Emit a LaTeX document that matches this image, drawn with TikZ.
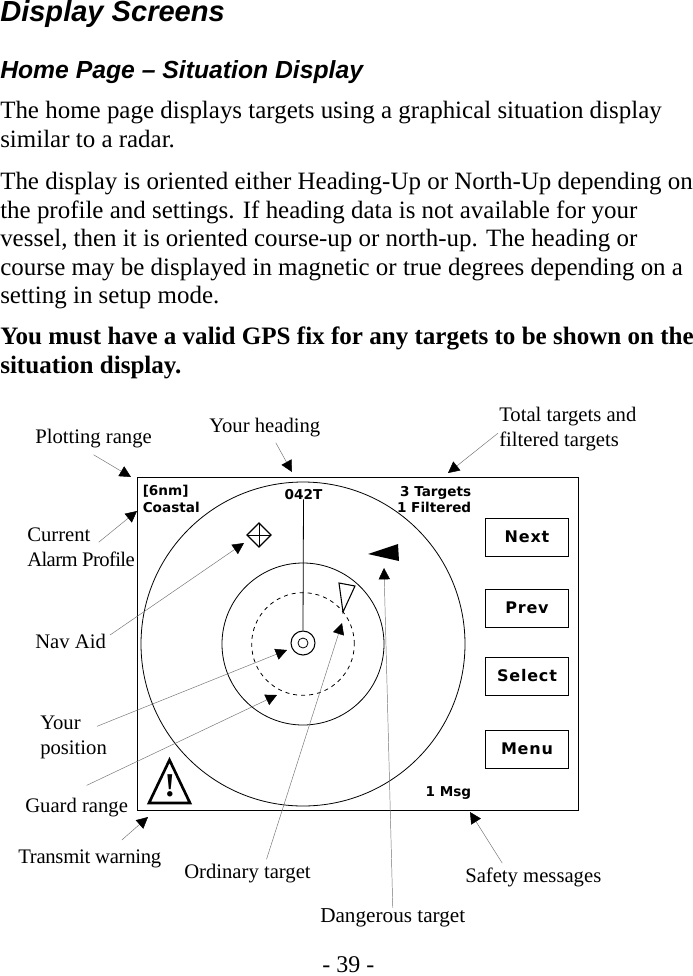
\documentclass[tikz,border=0pt]{standalone}
\usepackage{fontspec}
\setmainfont{Liberation Serif}
\setsansfont{Liberation Sans}
\newfontfamily\panelfont{DejaVu Sans}
\newfontfamily\btnfont[LetterSpace=5]{DejaVu Sans}
\usetikzlibrary{arrows.meta,positioning,calc}

\begin{document}
\begin{tikzpicture}[
    x=0.75pt, y=-0.75pt,
    pagetext/.style={inner sep=0pt, anchor=north west, align=left, font=\fontsize{18.72}{21.4}\selectfont},
    chaptitle/.style={inner sep=0pt, anchor=base west, font=\fontsize{21.8}{24}\sffamily\bfseries\itshape},
    sectitle/.style={inner sep=0pt, anchor=base west, font=\fontsize{18.55}{21}\sffamily\bfseries\itshape},
    callout/.style={inner sep=0pt, anchor=base west, font=\fontsize{15.5}{18}\selectfont},
    paneltext/.style={inner sep=0pt, font=\fontsize{10.2}{12}\panelfont\bfseries},
    softkey/.style={rectangle, draw, line width=0.6pt, minimum width=62.5pt, minimum height=28.5pt, inner sep=0pt, font=\fontsize{12}{14}\btnfont\bfseries},
    ring/.style={draw, line width=0.6pt},
    pointer/.style={-{Triangle[length=8.5pt, width=8.5pt, color=black]}, draw=black!55, line width=0.35pt},
]
    \useasboundingbox (0,0) rectangle (693,976);

    % Page text
    \node[chaptitle] (chaptitle) at (0,21) {Display Screens};
    \node[sectitle] (sectitle) at (0,78) {Home Page – Situation Display};
    \node[pagetext] (para1) at (0,101) {The home page displays targets using a graphical situation display\\similar to a radar.};
    \node[pagetext] (para2) at (0,172) {The display is oriented either Heading-Up or North-Up depending on\\the profile and settings. If heading data is not available for your\\vessel, then it is oriented course-up or north-up. The heading or\\course may be displayed in magnetic or true degrees depending on a\\setting in setup mode.};
    \node[pagetext, font=\fontsize{18.8}{21.4}\bfseries] (para3) at (0,327) {You must have a valid GPS fix for any targets to be shown on the\\situation display.};
    \node[pagetext, anchor=base west, font=\fontsize{18}{21}\selectfont] (pageno) at (322,972) {- 39 -};

    % Screen frame
    \node[rectangle, draw, line width=0.7pt, minimum width=330.75pt, minimum height=249.75pt, inner sep=0pt] (screen) at (357.5,643.5) {};

    % Range rings
    \node[ring, circle, minimum size=243pt, inner sep=0pt] (outerring) at (303,644) {};
    \node[ring, circle, minimum size=121.5pt, inner sep=0pt] (midring) at (303,644) {};
    \node[ring, dashed, circle, minimum size=77pt, inner sep=0pt] (guardring) at (303,644) {};
    \node[ring, circle, line width=0.8pt, minimum size=18pt, inner sep=0pt] (ownship) at (303,643) {};
    \node[ring, circle, minimum size=7.5pt, inner sep=0pt] (owninner) at (303,643) {};

    % Screen readouts
    \node[paneltext, anchor=base west] (rangetext) at (142.5,495) {[6nm]};
    \node[paneltext, anchor=base west] (profiletext) at (142.5,512) {Coastal};
    \node[paneltext, anchor=base] (headingtext) at (303.5,499) {042T};
    \node[paneltext, anchor=base east] (targetstext) at (471.5,496) {3 Targets};
    \node[paneltext, anchor=base east] (filteredtext) at (471.5,512) {1 Filtered};
    \node[paneltext, anchor=base east] (msgtext) at (471.5,796) {1 Msg};
    \draw[line width=0.6pt] (headingtext.south) -- (ownship.north);

    % Soft keys
    \node[softkey] (nextkey) at (527,537) {Next};
    \node[softkey] (prevkey) at (527,608) {Prev};
    \node[softkey] (selectkey) at (527,676) {Select};
    \node[softkey] (menukey) at (527,749) {Menu};

    % Symbols
    \draw[line width=0.9pt] (259,523) -- (271,535) -- (259,547) -- (247,535) -- cycle;
    \draw[line width=0.4pt] (259,523) -- (259,547) (247,535) -- (271,535);
    \fill (368,554) -- (398,544) -- (399,561) -- cycle;
    \draw[line width=0.8pt] (339,583) -- (355,586) -- (343,612) -- cycle;
    \draw[line width=2pt, line join=miter] (149,803) -- (190,803) -- (169.5,760) -- cycle;
    \node[inner sep=0pt, font=\fontsize{25}{28}\bfseries] (warnmark) at (170,786) {!};

    % Arrow tips
    \coordinate (tipplot) at (131,477);
    \coordinate (tipheading) at (292,472);
    \coordinate (tiptotal) at (448,473);
    \coordinate (tipalarm) at (137,511);
    \coordinate (tipnav) at (244,543);
    \coordinate (tipown) at (287,650);
    \coordinate (tipguard) at (277,695);
    \coordinate (tiptransmit) at (148,817);
    \coordinate (tipordinary) at (342,623);
    \coordinate (tipdanger) at (384,568);
    \coordinate (tipsafety) at (470,812);

    % Callouts
    \node[callout] (lblplot) at (35,443) {Plotting range};
    \node[callout] (lblheading) at (209,432) {Your heading};
    \node[callout] (lbltotal) at (499,421) {Total targets and};
    \node[callout] (lblfiltered) at (499,446) {filtered targets};
    \node[callout] (lblcurrent) at (27,541) {Current};
    \node[callout, font=\fontsize{15.5}{18}\selectfont\addfontfeature{LetterSpace=-3}] (lblalarm) at (27,566) {Alarm Profile};
    \node[callout] (lblnav) at (35,648) {Nav Aid};
    \node[callout] (lblyour) at (40,729) {Your};
    \node[callout] (lblposition) at (40,754) {position};
    \node[callout] (lblguard) at (25,812) {Guard range};
    \node[callout, font=\fontsize{15.5}{18}\selectfont\addfontfeature{LetterSpace=-1.3}] (lbltransmit) at (18,863) {Transmit warning};
    \node[callout] (lblordinary) at (184,878) {Ordinary target};
    \node[callout, font=\fontsize{15.9}{18}\selectfont] (lbldanger) at (320,922) {Dangerous target};
    \node[callout] (lblsafety) at (465,882) {Safety messages};

    \draw[pointer] ([shift={(0,7)}]lblplot.south) -- (tipplot);
    \draw[pointer] ([shift={(11,6)}]lblheading.south) -- (tipheading);
    \draw[pointer] ([shift={(-1,2)}]lblfiltered.north west) -- (tiptotal);
    \draw[pointer] ([shift={(8,8)}]lblcurrent.east) -- (tipalarm);
    \draw[pointer] ([shift={(4,-6)}]lblnav.east) -- (tipnav);
    \draw[pointer] ([shift={(16,4)}]lblyour.east) -- (tipown);
    \draw[pointer] ([shift={(10,-12)}]lblguard.north) -- (tipguard);
    \draw[pointer] ([shift={(32,-9)}]lbltransmit.north) -- (tiptransmit);
    \draw[pointer] ([shift={(19,-4)}]lblordinary.north) -- (tipordinary);
    \draw[pointer] (lbldanger.north) -- (tipdanger);
    \draw[pointer] ([shift={(-31,-4)}]lblsafety.north) -- (tipsafety);
\end{tikzpicture}
\end{document}
